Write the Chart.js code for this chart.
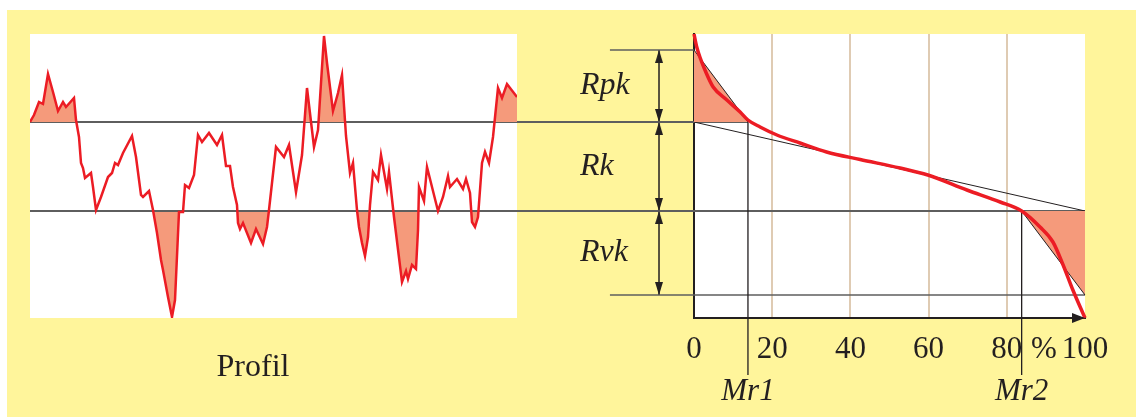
<!DOCTYPE html>
<html>
<head>
<meta charset="utf-8">
<script src="https://cdn.jsdelivr.net/npm/chart.js@4.4.0/dist/chart.umd.min.js"></script>
<style>
  html, body { margin: 0; padding: 0; background: #fff; }
  #frame { position: absolute; left: 7px; top: 10px; width: 1129px; height: 407px; background: #fff59b; }
  canvas { position: absolute; top: 0; }
  #profileChart { left: 0; }
  #abbottChart { left: 517px; }
</style>
</head>
<body>
<div id="frame"></div>
<canvas id="profileChart" width="517" height="417"></canvas>
<canvas id="abbottChart" width="619" height="417"></canvas>
<script>
// profile trace: position (mm) and height (µm)
let profileX = [0, 0.04, 0.09, 0.13, 0.18, 0.23, 0.28, 0.33, 0.36, 0.44,
  0.46, 0.49, 0.51, 0.53, 0.55, 0.61, 0.63, 0.66, 0.71, 0.78,
  0.82, 0.85, 0.88, 0.93, 1.02, 1.06, 1.11, 1.13, 1.19, 1.23,
  1.27, 1.31, 1.33, 1.38, 1.42, 1.45, 1.49, 1.53, 1.55, 1.59,
  1.64, 1.68, 1.72, 1.79, 1.87, 1.92, 1.96, 2.00, 2.03, 2.07,
  2.08, 2.10, 2.13, 2.21, 2.26, 2.33, 2.37, 2.39, 2.46, 2.54,
  2.59, 2.66, 2.72, 2.77, 2.84, 2.88, 2.94, 2.97, 3.03, 3.08,
  3.12, 3.16, 3.20, 3.23, 3.27, 3.29, 3.32, 3.35, 3.38, 3.40,
  3.43, 3.48, 3.51, 3.57, 3.59, 3.64, 3.72, 3.76, 3.78, 3.82,
  3.86, 3.88, 3.89, 3.94, 3.97, 4.08, 4.13, 4.18, 4.20, 4.27,
  4.33, 4.36, 4.40, 4.42, 4.45, 4.48, 4.52, 4.55, 4.59, 4.63,
  4.68, 4.72, 4.77, 4.87];
let profileZ = [4.4, 5.1, 6.4, 6.2, 9.2, 7.4, 5.5, 6.4, 5.9, 6.8,
  4.6, 2.9, 0.3, -0.2, -1.2, -0.7, -2.1, -4.4, -3.1, -1.1,
  -0.7, 0.3, 0.1, 1.3, 3.0, 0.9, -2.9, -3.1, -2.5, -4.4,
  -6.7, -9.4, -10.4, -13.1, -15.1, -13.4, -4.6, -4.6, -1.9, -2.2,
  -0.9, 3.1, 2.4, 3.3, 2.1, 3.1, 0.0, 0.0, -2.1, -3.9,
  -5.7, -6.3, -5.7, -7.7, -6.3, -7.8, -6.1, -4.4, 1.9, 0.9,
  2.1, -2.6, 1.1, 7.8, 1.9, 3.6, 13.0, 10.3, 5.5, 7.3,
  9.1, 3.0, -0.7, 0.3, -4.4, -6.1, -7.7, -9.0, -7.1, -3.9,
  -0.6, -1.4, 1.1, -2.3, -0.6, -5.1, -11.6, -10.5, -11.3, -9.9,
  -10.3, -6.4, -2.1, -3.5, -0.1, -4.5, -3.1, -1.0, -2.1, -1.3,
  -2.3, -1.3, -2.7, -5.6, -6.1, -5.1, 0.3, 1.4, 0.3, 2.9,
  7.8, 6.8, 8.2, 6.9];

// material ratio (Abbott) curve: percent and height (µm)
let curvePct = [0, 0.7, 1.5, 2.8, 4.9, 8.4, 11.8, 13.8, 16.9, 21.2, 27.1, 33.9,
  42.5, 52.7, 59.8, 69.8, 78.3, 83.8, 88.5, 91.8, 94.4, 96.9, 100];
let curveZ = [13.2, 11.9, 10.9, 9.6, 7.9, 6.6, 5.4, 4.6, 3.9, 3.1, 2.3, 1.4,
  0.65, -0.2, -0.9, -2.4, -3.6, -4.5, -6.1, -7.6, -9.9, -12.4, -15.2];

// characteristic levels
const rpkTop = 11.6;
const coreTop = 4.4;
const coreBottom = -4.5;
const rvkBottom = -12.9;
const mr1 = 13.8;
const mr2 = 83.8;

let pctTicks = [0, 20, 40, 60, 80, 100];
let pctGrid = [20, 40, 60, 80];
let levelNames = ['Rpk', 'Rk', 'Rvk'];

const red = '#ec1c24';
const salmon = '#f59a7b';
const gray = '#5e5e5e';
const ink = '#231f20';
const tan = '#dfcbb3';
const clear = 'rgba(0,0,0,0)';
const serif = "'Liberation Serif', 'Times New Roman', serif";

const zMin = -15.2, zMax = 13.2;
const profileLabelAt = 2.23;
const pctSignAt = 89.5;
const dimX = -8.95;      // dimension arrows, left of the axis
const sideStart = -21.5; // short level lines
const gapStart = -46;    // lines joining the profile
const mrFoot = -20.9;

const whiteArea = {
  id: 'whiteArea',
  beforeDraw(chart) {
    const {ctx, chartArea: a} = chart;
    ctx.save();
    ctx.fillStyle = '#fff';
    ctx.fillRect(a.left, a.top, a.right - a.left, a.bottom - a.top);
    ctx.restore();
  }
};

// arrow head with its tip in the centre of the image
function arrowHead(w, len) {
  const c = document.createElement('canvas');
  c.width = w; c.height = len * 2 + 2;
  const g = c.getContext('2d');
  g.fillStyle = ink;
  g.beginPath();
  g.moveTo(w / 2, len + 1);
  g.lineTo(w, 2 * len + 1);
  g.lineTo(0, 2 * len + 1);
  g.closePath();
  g.fill();
  return c;
}
const dimHead = arrowHead(8, 13);
const axisHead = arrowHead(10, 13);

const line = (pts, color, width) => ({
  data: pts, borderColor: color, borderWidth: width, pointRadius: 0, fill: false, clip: false
});

// ---- profile ----
const profilePts = profileX.map((x, i) => ({x: x, y: profileZ[i]}));
const lastX = profileX[profileX.length - 1];

new Chart(document.getElementById('profileChart'), {
  type: 'line',
  data: {
    datasets: [
      {
        data: profilePts, borderColor: red, borderWidth: 2.5, pointRadius: 0, tension: 0,
        fill: {target: {value: coreTop}, above: salmon, below: clear}
      },
      line([{x: 0, y: coreTop}, {x: lastX, y: coreTop}], gray, 2),
      line([{x: 0, y: coreBottom}, {x: lastX, y: coreBottom}], gray, 2),
      {
        data: profilePts, borderColor: clear, borderWidth: 0, pointRadius: 0, tension: 0,
        fill: {target: {value: coreBottom}, above: clear, below: salmon}
      }
    ]
  },
  options: {
    responsive: false,
    animation: false,
    events: [],
    layout: {autoPadding: false, padding: {left: 30, top: 34, right: 0, bottom: 0}},
    plugins: {legend: {display: false}, tooltip: {enabled: false}},
    scales: {
      x: {
        type: 'linear', min: 0, max: lastX,
        grid: {display: false, drawTicks: false},
        border: {display: false},
        afterBuildTicks: s => { s.ticks = [{value: profileLabelAt}]; },
        afterFit: s => { s.height = 99; },
        ticks: {
          autoSkip: false, maxRotation: 0, padding: 30, color: ink,
          font: {family: serif, size: 32},
          callback: () => 'Profil'
        }
      },
      y: {display: false, min: zMin, max: zMax}
    }
  },
  plugins: [whiteArea]
});

// ---- material ratio curve ----
const curvePts = curvePct.map((x, i) => ({x: x, y: curveZ[i]}));
const levels = [rpkTop, coreTop, coreBottom, rvkBottom];
const levelMids = [0, 1, 2].map(i => (levels[i] + levels[i + 1]) / 2);
const xTicks = [0, mr1, 20, 40, 60, 80, mr2, pctSignAt, 100];

function arrows(top, bottom) {
  return {
    data: [{x: dimX, y: top}, {x: dimX, y: bottom}],
    showLine: false, clip: false,
    pointStyle: dimHead, pointRadius: 60, pointHoverRadius: 60, pointBorderWidth: 0,
    pointRotation: ctx => (ctx.dataIndex === 0 ? 0 : 180)
  };
}

new Chart(document.getElementById('abbottChart'), {
  type: 'line',
  data: {
    datasets: [
      arrows(rpkTop, coreTop),
      arrows(coreTop, coreBottom),
      arrows(coreBottom, rvkBottom),
      {
        data: [{x: 100, y: zMin}], showLine: false, clip: false,
        pointStyle: axisHead, pointRadius: 60, pointHoverRadius: 60, pointBorderWidth: 0, pointRotation: 90
      },
      {
        data: curvePts, borderColor: red, borderWidth: 3.5, pointRadius: 0,
        cubicInterpolationMode: 'monotone', clip: false
      },
      {
        data: [{x: 0, y: rpkTop}, {x: mr1, y: coreTop}], borderColor: ink, borderWidth: 1, pointRadius: 0,
        fill: {target: {value: coreTop}, above: salmon, below: salmon}
      },
      {
        data: [{x: mr2, y: coreBottom}, {x: 100, y: rvkBottom}], borderColor: ink, borderWidth: 1, pointRadius: 0,
        fill: {target: {value: coreBottom}, above: salmon, below: salmon}
      },
      line([{x: 0, y: coreTop}, {x: 100, y: coreBottom}], ink, 1),
      line([{x: mr1, y: coreTop}, {x: mr1, y: mrFoot}], ink, 1.3),
      line([{x: mr2, y: coreBottom}, {x: mr2, y: mrFoot}], ink, 1.3),
      line([{x: gapStart, y: coreTop}, {x: mr1, y: coreTop}], gray, 2),
      line([{x: gapStart, y: coreBottom}, {x: 100, y: coreBottom}], gray, 2),
      line([{x: sideStart, y: rpkTop}, {x: 0, y: rpkTop}], gray, 1.6),
      line([{x: sideStart, y: rvkBottom}, {x: 100, y: rvkBottom}], gray, 1.6),
      line([{x: dimX, y: rpkTop}, {x: dimX, y: rvkBottom}], ink, 1.5)
    ]
  },
  options: {
    responsive: false,
    animation: false,
    events: [],
    layout: {autoPadding: false, padding: {left: 63, top: 34, right: 51, bottom: 0}},
    plugins: {legend: {display: false}, tooltip: {enabled: false}},
    scales: {
      x: {
        type: 'linear', bounds: 'data',
        afterDataLimits: s => { s.min = 0; s.max = 100; },
        afterBuildTicks: s => { s.ticks = xTicks.map(v => ({value: v})); },
        afterFit: s => { s.height = 99; },
        grid: {
          drawTicks: false, lineWidth: 2,
          color: ctx => (ctx.tick && pctGrid.includes(ctx.tick.value) ? tan : clear)
        },
        border: {display: true, color: ink, width: 2},
        ticks: {
          autoSkip: false, maxRotation: 0, minRotation: 0, padding: 13, color: ink,
          font: ctx => (ctx.tick && (ctx.tick.value === mr1 || ctx.tick.value === mr2))
            ? {family: serif, size: 31, style: 'italic', lineHeight: 1.3}
            : {family: serif, size: 31},
          callback: v => {
            if (v === mr1) return ['', 'Mr1'];
            if (v === mr2) return ['', 'Mr2'];
            if (v === pctSignAt) return '%';
            return pctTicks.includes(v) ? String(v) : '';
          }
        }
      },
      y: {
        min: zMin, max: zMax,
        afterBuildTicks: s => { s.ticks = levelMids.map(v => ({value: v})); },
        afterFit: s => { s.width = 114; },
        grid: {display: false, drawTicks: false},
        border: {display: true, color: ink, width: 2},
        ticks: {
          autoSkip: false, crossAlign: 'far', padding: 0, color: ink,
          font: {family: serif, size: 32, style: 'italic'},
          callback: (v, i) => levelNames[i]
        }
      }
    }
  },
  plugins: [whiteArea]
});
</script>
</body>
</html>
